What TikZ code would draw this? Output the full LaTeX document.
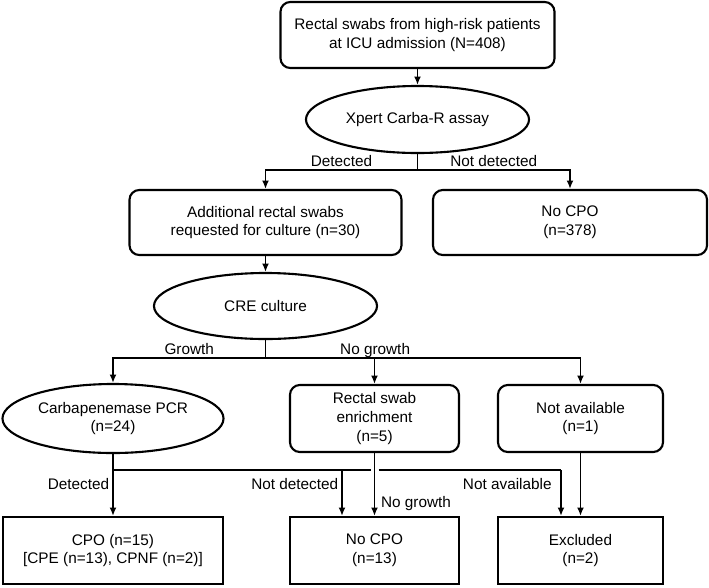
\documentclass[tikz,border=0pt]{standalone}
\usepackage{fontspec}
\setmainfont{Liberation Sans}
\usetikzlibrary{shapes.geometric,arrows.meta}

\begin{document}
\begin{tikzpicture}[x=0.025cm, y=-0.025cm,
    font=\fontsize{10.9}{13.4}\selectfont,
    caja/.style={draw, line width=1.5pt, rounded corners=7pt, align=center, inner sep=0pt},
    final/.style={draw, line width=1.5pt, align=center, inner sep=0pt},
    elipse/.style={draw, ellipse, line width=1.5pt, align=center, inner sep=0pt},
    flecha/.style={line width=1.4pt, -{Latex[length=6pt,width=5pt]}},
    linea/.style={line width=1.4pt},
    etiqueta/.style={inner sep=2pt, text depth=0pt}]

    \useasboundingbox (0,0) rectangle (709,587);

    % Cajas
    \node[caja, minimum width=6.85cm, minimum height=1.65cm] (swabs) at (417.5,35) {Rectal swabs from high-risk patients\\at ICU admission (N=408)};
    \node[elipse, minimum width=5.575cm, minimum height=1.675cm] (xpert) at (417.5,119.5) {Xpert Carba-R assay};

    \node[caja, minimum width=6.8cm, minimum height=1.625cm] (adicional) at (265.5,222.5) {Additional rectal swabs\\requested for culture (n=30)};
    \node[caja, minimum width=6.85cm, minimum height=1.625cm] (nocpoa) at (570,222.5) {No CPO\\(n=378)};

    \node[elipse, minimum width=5.575cm, minimum height=1.65cm] (cultivo) at (265.5,306) {CRE culture};

    \node[elipse, minimum width=5.525cm, minimum height=1.725cm] (pcr) at (113,418.5) {Carbapenemase PCR\\(n=24)};
    \node[caja, minimum width=4.225cm, minimum height=1.675cm] (enriq) at (374.5,418.5) {Rectal swab\\enrichment\\(n=5)};
    \node[caja, minimum width=4.125cm, minimum height=1.675cm] (nodisp) at (580.5,418.5) {Not available\\(n=1)};

    \node[final, minimum width=5.5cm, minimum height=1.675cm] (cpo) at (113,550.5) {CPO (n=15)\\{}[CPE (n=13), CPNF (n=2)]};
    \node[final, minimum width=4.225cm, minimum height=1.675cm] (nocpob) at (374.5,550.5) {No CPO\\(n=13)};
    \node[final, minimum width=4.125cm, minimum height=1.675cm] (excluidos) at (580.5,550.5) {Excluded\\(n=2)};

    % Ramas
    \coordinate (r1) at (417.5,170);
    \coordinate (r2) at (265.5,358);
    \coordinate (r3) at (113,470);
    \coordinate (r3nd) at (342,470);
    \coordinate (r3na) at (561,470);
    \coordinate (hueco1) at (370.5,470);
    \coordinate (hueco2) at (378.5,470);

    % Conexiones
    \draw[flecha] (swabs) -- (xpert);
    \draw[linea] (xpert.south) -- (r1);
    \draw[flecha] (r1) -| node[etiqueta, above, pos=0.25] {Detected} (adicional.north);
    \draw[flecha] (r1) -| node[etiqueta, above, pos=0.25] {Not detected} (nocpoa.north);

    \draw[flecha] (adicional) -- (cultivo);
    \draw[linea] (cultivo.south) -- (r2);
    \draw[flecha] (r2) -| node[etiqueta, above, pos=0.25] {Growth} (pcr.north);
    \draw[flecha] (r2) -| (enriq.north);
    \draw[flecha] (r2) -| node[etiqueta, above, pos=0.174] {No growth} (nodisp.north);

    \draw[flecha] (pcr) -- node[etiqueta, left, pos=0.48] {Detected} (cpo);
    \draw[linea] (r3) -- (hueco1);
    \draw[linea] (hueco2) -- (r3na);
    \draw[flecha] (r3nd) -- node[etiqueta, left, pos=0.3] {Not detected} (r3nd |- nocpob.north);
    \draw[flecha] (enriq) -- node[etiqueta, right, pos=0.78, inner sep=4pt] {No growth} (nocpob);
    \draw[flecha] (r3na) -- node[etiqueta, left, pos=0.3, inner sep=6pt] {Not available} (r3na |- excluidos.north);
    \draw[flecha] (nodisp) -- (excluidos);

\end{tikzpicture}
\end{document}
